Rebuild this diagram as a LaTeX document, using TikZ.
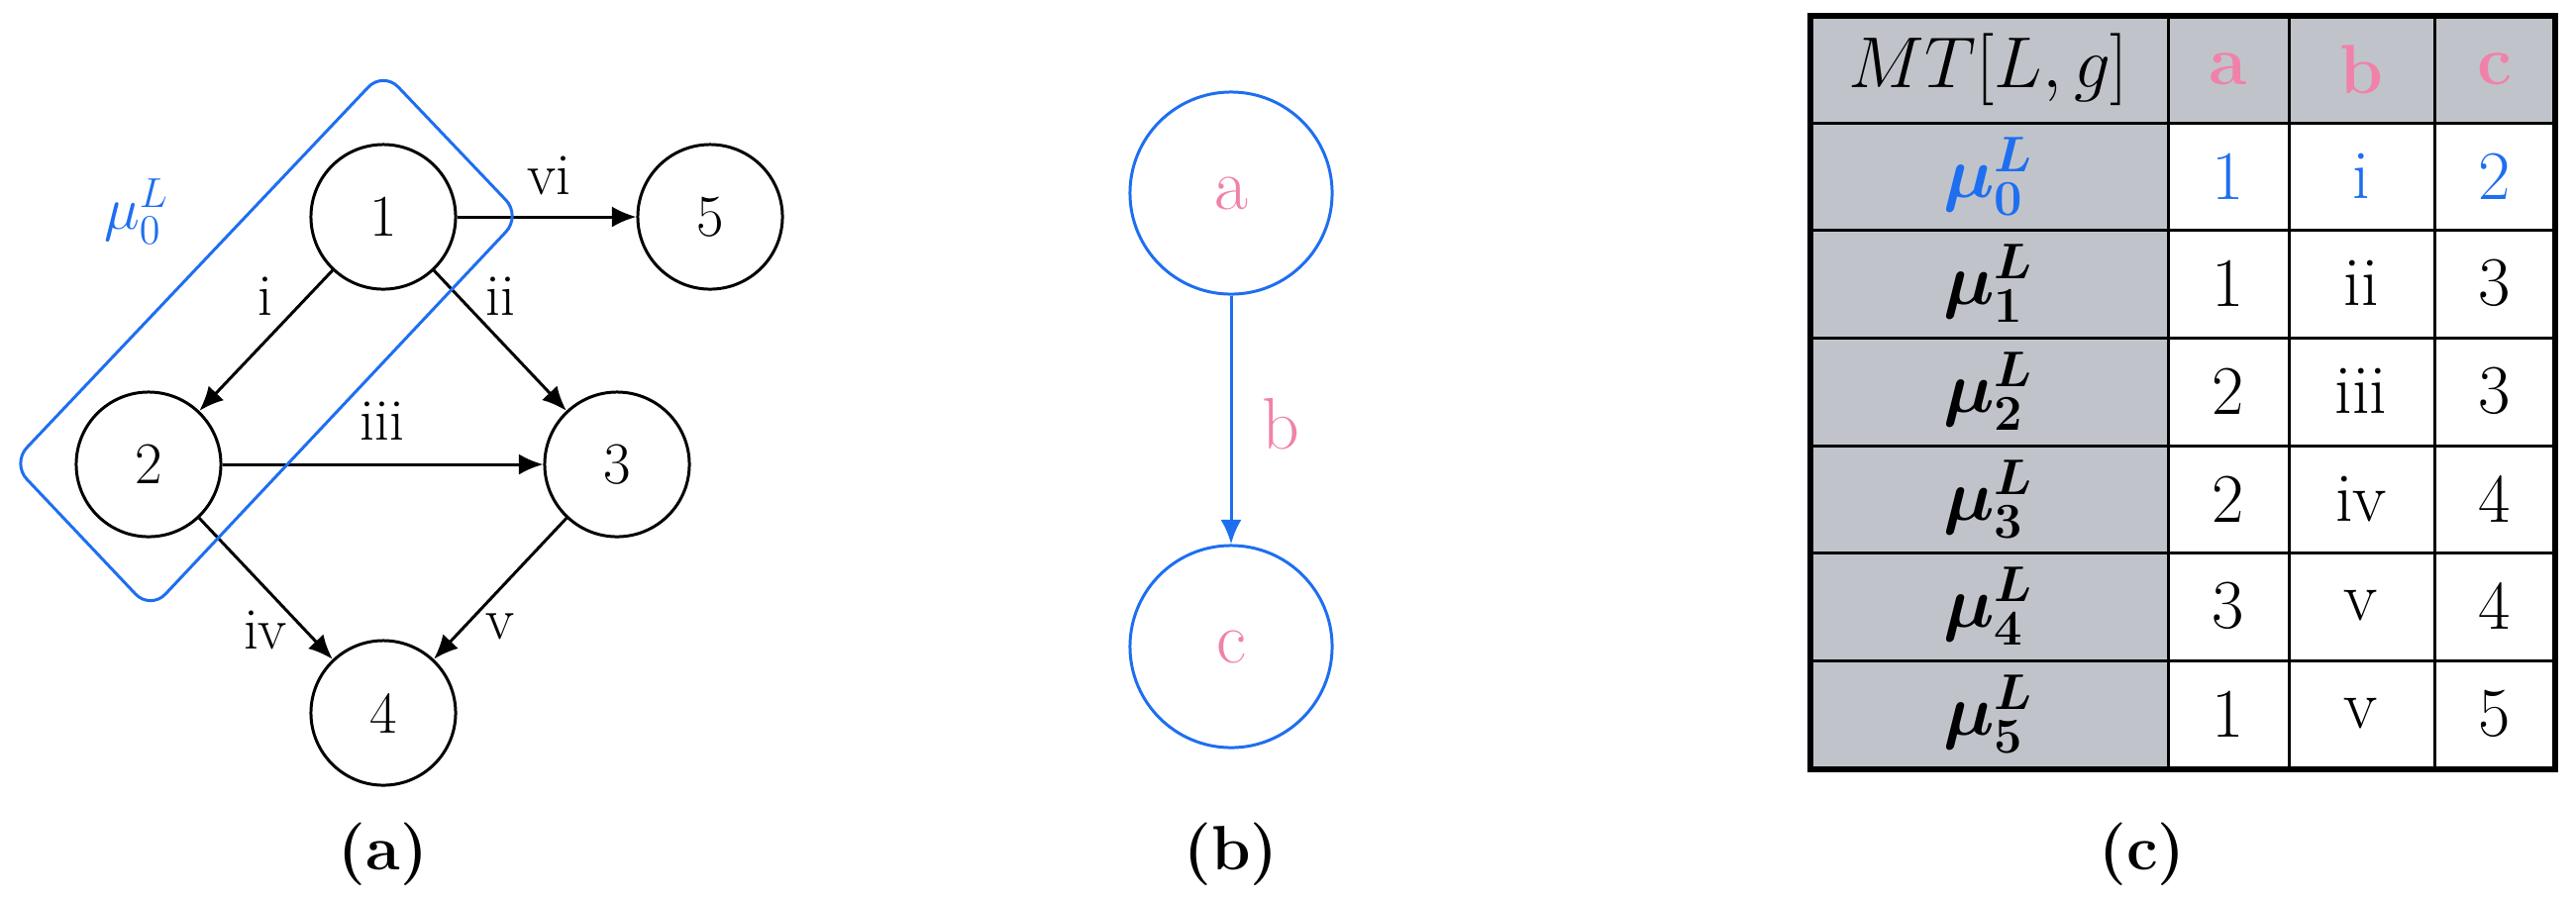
\documentclass[tikz,border=0pt]{standalone}
\usepackage{bm}
\usetikzlibrary{arrows.meta}
\definecolor{myblue}{RGB}{30,110,240}
\definecolor{mypink}{RGB}{240,130,170}
\definecolor{mygrey}{RGB}{192,196,202}
\tikzset{
 vtx/.style={circle,draw,line width=0.85pt,minimum size=1.46cm,inner sep=0pt,font=\fontsize{17}{20}\selectfont},
 edge/.style={line width=0.85pt,-{Latex[length=7pt,width=6pt]}},
 elab/.style={font=\fontsize{17}{20}\selectfont,inner sep=0pt},
 bvtx/.style={circle,draw=myblue,line width=0.85pt,minimum size=2.04cm,inner sep=0pt,text=mypink,font=\fontsize{21}{24}\selectfont},
 captxt/.style={font=\fontsize{18}{22}\selectfont\bfseries},
 cell/.style={font=\fontsize{20}{24}\selectfont,inner sep=0pt},
}
\begin{document}
\begin{tikzpicture}[x=0.01cm,y=-0.01cm]
\useasboundingbox (0,0) rectangle (2601,911);
% panel a
\node[vtx] (n1) at (387,219) {1};
\node[vtx] (n2) at (150,469) {2};
\node[vtx] (n3) at (623,469) {3};
\node[vtx] (n4) at (387,720) {4};
\node[vtx] (n5) at (717,219) {5};
\draw[edge] (n1) -- (n2);
\draw[edge] (n1) -- (n3);
\draw[edge] (n2) -- (n3);
\draw[edge] (n2) -- (n4);
\draw[edge] (n3) -- (n4);
\draw[edge] (n1) -- (n5);
\node[elab] (lvi) at (554,177) {vi};
\node[elab] (li) at (268,299) {i};
\node[elab] (lii) at (505,299) {ii};
\node[elab] (liii) at (386,425) {iii};
\node[elab] (liv) at (268,636) {iv};
\node[elab] (lv) at (505,633) {v};
\draw[myblue,line width=0.85pt,rounded corners=0.22cm] (387,72) -- (526,218) -- (152,616) -- (12,468) -- cycle;
\node[elab,text=myblue] (mu) at (138,214) {$\mu_0^L$};
\node[captxt] (ca) at (387,863) {(a)};
% panel b
\node[bvtx] (a) at (1243,195) {a};
\node[bvtx] (c) at (1243,653) {c};
\draw[myblue,line width=0.85pt,-{Latex[length=7pt,width=6pt]}] (a) -- (c);
\node[text=mypink,font=\fontsize{21}{24}\selectfont] (bl) at (1293,428) {b};
\node[captxt] (cb) at (1243,863) {(b)};
% panel c
\fill[mygrey] (1828,18) rectangle (2580,124);
\fill[mygrey] (1828,124) rectangle (2189,777);
\foreach \y in {124,232,341,450,558,667} \draw[line width=0.85pt] (1828,\y) -- (2580,\y);
\foreach \x in {2189,2311,2458} \draw[line width=0.85pt] (\x,18) -- (\x,777);
\draw[line width=1.5pt] (1828,16) rectangle (2580,777);
\node[cell] (h0) at (2008,70) {$MT[L,g]$};
\node[cell,text=mypink] (ha) at (2250,70) {\textbf{a}};
\node[cell,text=mypink] (hb) at (2384,70) {\textbf{b}};
\node[cell,text=mypink] (hc) at (2519,70) {\textbf{c}};
\node[cell,text=myblue] (r0) at (2008,178) {$\bm{\mu_0^L}$};
\node[cell,text=myblue] (r0a) at (2250,178) {1};
\node[cell,text=myblue] (r0b) at (2384,178) {i};
\node[cell,text=myblue] (r0c) at (2519,178) {2};
\node[cell] (r1) at (2008,286) {$\bm{\mu_1^L}$};
\node[cell] (r1a) at (2250,286) {1};
\node[cell] (r1b) at (2384,286) {ii};
\node[cell] (r1c) at (2519,286) {3};
\node[cell] (r2) at (2008,395) {$\bm{\mu_2^L}$};
\node[cell] (r2a) at (2250,395) {2};
\node[cell] (r2b) at (2384,395) {iii};
\node[cell] (r2c) at (2519,395) {3};
\node[cell] (r3) at (2008,504) {$\bm{\mu_3^L}$};
\node[cell] (r3a) at (2250,504) {2};
\node[cell] (r3b) at (2384,504) {iv};
\node[cell] (r3c) at (2519,504) {4};
\node[cell] (r4) at (2008,612) {$\bm{\mu_4^L}$};
\node[cell] (r4a) at (2250,612) {3};
\node[cell] (r4b) at (2384,612) {v};
\node[cell] (r4c) at (2519,612) {4};
\node[cell] (r5) at (2008,721) {$\bm{\mu_5^L}$};
\node[cell] (r5a) at (2250,721) {1};
\node[cell] (r5b) at (2384,721) {v};
\node[cell] (r5c) at (2519,721) {5};
\node[captxt] (cc) at (2163,863) {(c)};
\end{tikzpicture}
\end{document}
